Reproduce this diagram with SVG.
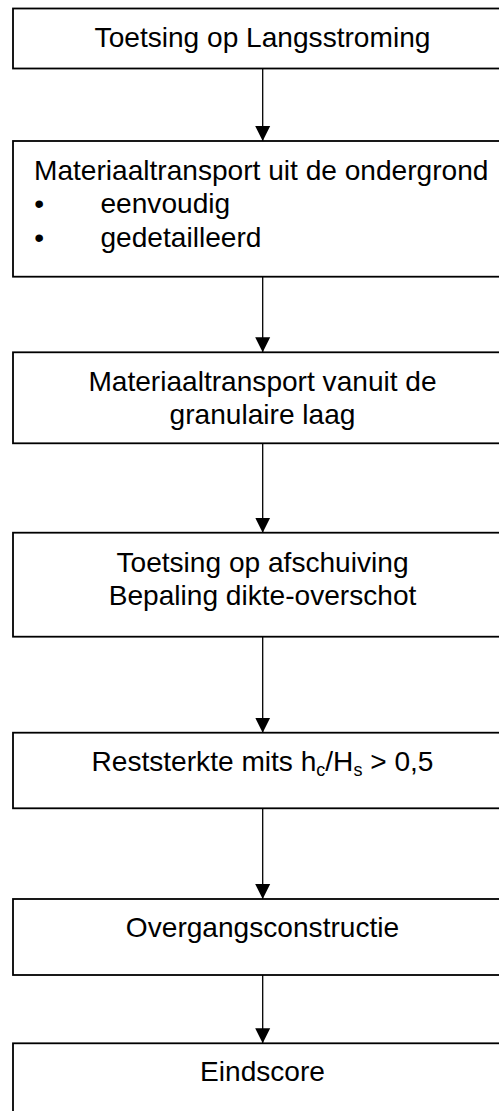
<svg xmlns="http://www.w3.org/2000/svg" width="499" height="1111" viewBox="0 0 499 1111">
<style>
.box{fill:#fff;stroke:#000;stroke-width:1.8}
.t{font-family:"Liberation Sans",Arial,sans-serif;font-size:28.1px;fill:#000}
.c{text-anchor:middle}
.con line{stroke:#000;stroke-width:1.3}
.sub{font-size:18px}
</style>
<defs>
<marker id="ah" markerUnits="userSpaceOnUse" markerWidth="16" markerHeight="16" viewBox="0 0 16 16" refX="15" refY="8" orient="auto">
<path d="M0,0.5 L15,8 L0,15.5 Z" fill="#000"/>
</marker>
</defs>
<rect width="499" height="1111" fill="#fff"/>
<g id="connectors" class="con">
<line x1="262.7" y1="68.5" x2="262.7" y2="141" marker-end="url(#ah)"/>
<line x1="262.7" y1="276.7" x2="262.7" y2="352.3" marker-end="url(#ah)"/>
<line x1="262.7" y1="443.3" x2="262.7" y2="532.7" marker-end="url(#ah)"/>
<line x1="262.7" y1="636.7" x2="262.7" y2="732.7" marker-end="url(#ah)"/>
<line x1="262.7" y1="808.3" x2="262.7" y2="899" marker-end="url(#ah)"/>
<line x1="262.7" y1="975" x2="262.7" y2="1043.3" marker-end="url(#ah)"/>
</g>
<g id="n1">
<rect class="box" x="13" y="8.5" width="500" height="60"/>
<text class="t c" x="262.5" y="46.7">Toetsing op Langsstroming</text>
</g>
<g id="n2">
<rect class="box" x="13" y="141" width="500" height="135.7"/>
<text class="t" x="34" y="179.5">Materiaaltransport uit de ondergrond</text>
<text class="t" x="34.3" y="213">•</text>
<text class="t" x="100.5" y="213">eenvoudig</text>
<text class="t" x="34.3" y="246.5">•</text>
<text class="t" x="100.5" y="246.5">gedetailleerd</text>
</g>
<g id="n3">
<rect class="box" x="13" y="352.3" width="500" height="91"/>
<text class="t c" x="262.5" y="390.7">Materiaaltransport vanuit de</text>
<text class="t c" x="262.5" y="424">granulaire laag</text>
</g>
<g id="n4">
<rect class="box" x="13" y="532.7" width="500" height="104"/>
<text class="t c" x="262.5" y="571.7">Toetsing op afschuiving</text>
<text class="t c" x="262.5" y="605">Bepaling dikte-overschot</text>
</g>
<g id="n5">
<rect class="box" x="13" y="732.7" width="500" height="75.6"/>
<text class="t c" x="262.5" y="770.7">Reststerkte mits h<tspan class="sub" dy="5">c</tspan><tspan dy="-5">/H</tspan><tspan class="sub" dy="5">s</tspan><tspan dy="-5"> &gt; 0,5</tspan></text>
</g>
<g id="n6">
<rect class="box" x="13" y="899" width="500" height="76"/>
<text class="t c" x="262.5" y="936.7">Overgangsconstructie</text>
</g>
<g id="n7">
<rect class="box" x="13" y="1043.3" width="500" height="90"/>
<text class="t c" x="262.5" y="1081">Eindscore</text>
</g>
</svg>
